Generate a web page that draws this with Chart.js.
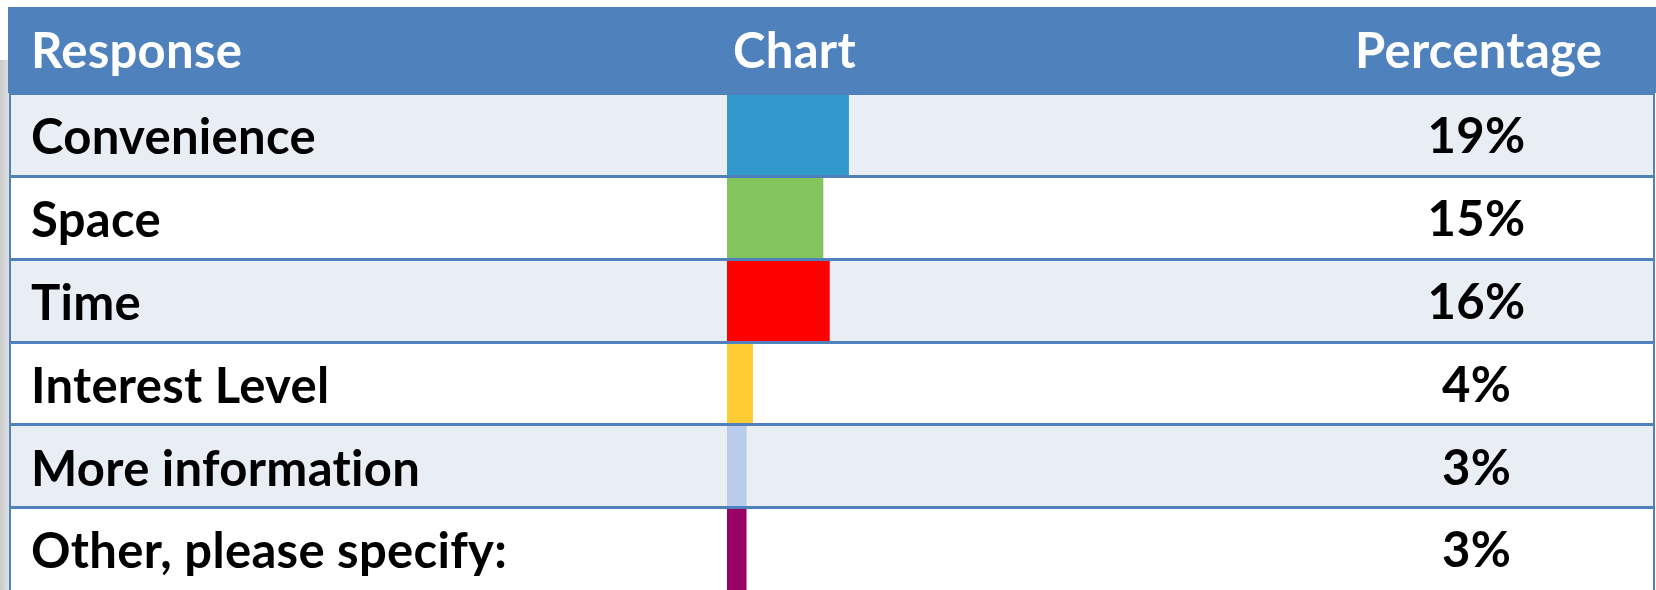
<!DOCTYPE html>
<html>
<head>
<meta charset="utf-8">
<script src="https://cdn.jsdelivr.net/npm/chart.js@4.4.0/dist/chart.umd.min.js"></script>
<style>
  html, body { margin: 0; padding: 0; background: #fff; }
</style>
</head>
<body>
<canvas id="myChart" width="1656" height="590"></canvas>
<script>
var ctx = document.getElementById('myChart');

// table data
var headers = ["Response", "Chart", "Percentage"];
var responses = ["Convenience", "Space", "Time", "Interest Level", "More information", "Other, please specify:"];
var percentages = [19, 15, 16, 4, 3, 3];
var percentLabels = ["19%", "15%", "16%", "4%", "3%", "3%"];
var barColors = ["#3398CC", "#83C55C", "#FF0000", "#FFCC33", "#BACCEC", "#990066"];

var tableBlue = "#4F81BD";
var stripe = "#E9EDF4";
var cellFont = { family: "Lato", size: 49, weight: "bold" };
var textLeft = 31;
var pctCenter = 1476;   // centre of the percentage column

// the percentage axis starts where the bar area ends; put it so the labels are centred
var m = document.createElement('canvas').getContext('2d');
m.font = "bold 49px Lato";
var widest = 0;
percentLabels.forEach(function (t) { widest = Math.max(widest, m.measureText(t).width); });
var plotRight = Math.round(pctCenter - widest / 2);

function noPad(s) { s.paddingTop = 0; s.paddingBottom = 0; }

var tablePlugin = {
  id: 'table',
  beforeDraw: function (chart) {
    var c = chart.ctx, y = chart.scales.y;
    var step = (y.bottom - y.top) / responses.length;
    // a hair of letter spacing turns off the fi ligature (the original font has none)
    c.letterSpacing = '0.3px';
    c.save();
    c.fillStyle = '#fff';
    c.fillRect(0, 0, chart.width, chart.height);
    var g = c.createLinearGradient(0, 0, 10, 0);
    g.addColorStop(0, '#CACACA');
    g.addColorStop(1, '#E2E2E2');
    c.fillStyle = g;
    c.fillRect(0, 60, 10, chart.height);
    // header
    c.fillStyle = tableBlue;
    c.fillRect(8, 7, chart.width - 8, y.top - 7);
    // row stripes
    for (var i = 0; i < responses.length; i++) {
      c.fillStyle = i % 2 === 0 ? stripe : '#fff';
      c.fillRect(10, y.top + i * step, 1644, step);
    }
    c.fillStyle = '#fff';
    c.font = "bold 49px Lato";
    c.textBaseline = 'alphabetic';
    c.fillText(headers[0], textLeft, 68);
    c.fillText(headers[1], 733, 68);
    c.fillText(headers[2], 1355, 68);
    c.restore();
  },
  afterDatasetsDraw: function (chart) {
    var c = chart.ctx, y = chart.scales.y;
    var step = (y.bottom - y.top) / responses.length;
    c.save();
    c.strokeStyle = tableBlue;
    c.lineWidth = 3;
    for (var i = 0; i < responses.length; i++) {
      var yy = Math.round(y.top + i * step) + 0.5;
      c.beginPath();
      c.moveTo(9, yy);
      c.lineTo(1655, yy);
      c.stroke();
    }
    c.lineWidth = 2;
    c.beginPath();
    c.moveTo(10, y.top);
    c.lineTo(10, chart.height);
    c.moveTo(1654, y.top);
    c.lineTo(1654, chart.height);
    c.stroke();
    c.restore();
  }
};

var chart = new Chart(ctx, {
  type: 'bar',
  data: {
    labels: responses,
    datasets: [{
      data: percentages,
      backgroundColor: barColors,
      borderWidth: 0,
      barPercentage: 1,
      categoryPercentage: 1
    }]
  },
  options: {
    indexAxis: 'y',
    responsive: false,
    animation: false,
    layout: { padding: { left: textLeft, top: 93, right: 0, bottom: -2 } },
    plugins: {
      legend: { display: false },
      tooltip: { enabled: false }
    },
    scales: {
      x: {
        display: false,
        min: 0,
        max: (plotRight - 727) / 6.4
      },
      y: {
        position: 'left',
        offset: true,
        grid: { display: false, drawTicks: false },
        border: { display: false },
        ticks: {
          autoSkip: false,
          crossAlign: 'far',
          padding: 0,
          labelOffset: 4,
          color: '#000',
          font: cellFont
        },
        afterFit: function (s) { s.width = 727 - textLeft; noPad(s); }
      },
      y2: {
        type: 'category',
        labels: percentLabels,
        position: 'right',
        offset: true,
        grid: { display: false, drawTicks: false },
        border: { display: false },
        ticks: {
          autoSkip: false,
          crossAlign: 'center',
          padding: 0,
          labelOffset: 3,
          color: '#000',
          font: cellFont
        },
        afterFit: function (s) { s.width = 1656 - plotRight; noPad(s); }
      }
    }
  },
  plugins: [tablePlugin]
});
</script>
</body>
</html>
